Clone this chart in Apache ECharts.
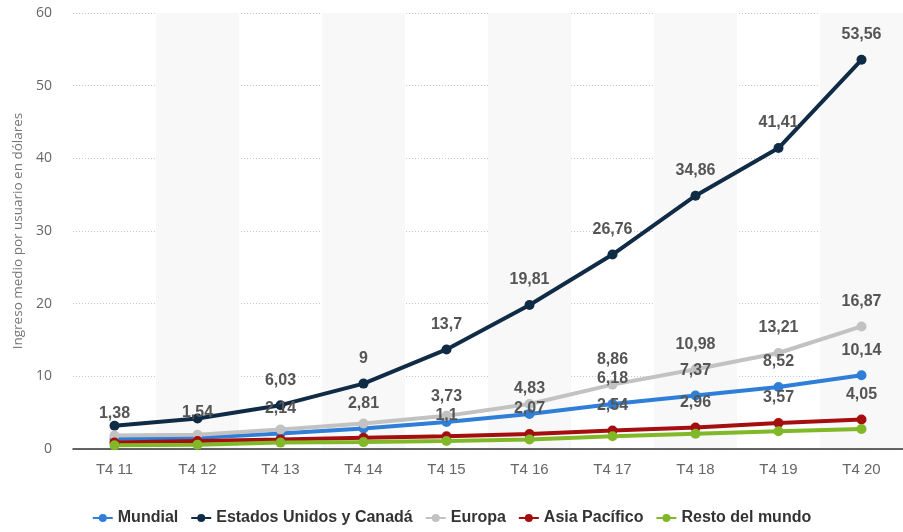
<!DOCTYPE html>
<html>
<head>
<meta charset="utf-8">
<script src="https://cdn.jsdelivr.net/npm/echarts@6/dist/echarts.min.js"></script>
<style>
  html, body { margin: 0; padding: 0; background: #fff; }
  #chart { width: 903px; height: 532px; }
</style>
</head>
<body>
<div id="chart"></div>
<script>
// Quarters (Q4 of each year, Spanish "T4")
const categories = ['T4 11', 'T4 12', 'T4 13', 'T4 14', 'T4 15', 'T4 16', 'T4 17', 'T4 18', 'T4 19', 'T4 20'];

// Average revenue per user, USD
const mundial      = [1.38, 1.54, 2.14, 2.81, 3.73, 4.83, 6.18, 7.37, 8.52, 10.14];
const eeuuCanada   = [3.2, 4.19, 6.03, 9, 13.7, 19.81, 26.76, 34.86, 41.41, 53.56];
const europa       = [1.85, 1.95, 2.7, 3.5, 4.56, 6.2, 8.86, 10.98, 13.21, 16.87];
const asiaPacifico = [0.9, 1.1, 1.3, 1.55, 1.75, 2.07, 2.54, 2.96, 3.57, 4.05];
const restoMundo   = [0.5, 0.6, 0.88, 0.95, 1.1, 1.3, 1.75, 2.1, 2.45, 2.75];

const yTicks = { min: 0, max: 60, interval: 10 };

// Indices of points whose value label is printed (the rest would collide)
const labelled = {
  mundial: [0, 1, 2, 3, 4, 5, 6, 7, 8, 9],
  eeuuCanada: [2, 3, 4, 5, 6, 7, 8, 9],
  europa: [6, 7, 8, 9],
  asiaPacifico: [5, 6, 7, 8, 9],
  restoMundo: [4]
};

const fmt = v => String(v).replace('.', ',');

function withLabels(values, idx) {
  return values.map((v, i) => ({ value: v, label: { show: idx.includes(i) } }));
}

function lineSeries(name, values, idx, color) {
  return {
    name: name,
    type: 'line',
    data: withLabels(values, idx),
    symbol: 'circle',
    symbolSize: 10,
    lineStyle: { width: 4, color: color },
    itemStyle: { color: color },
    label: {
      position: 'top',
      distance: 12,
      color: '#555',
      fontFamily: 'Liberation Sans, Arial, sans-serif',
      fontWeight: 'bold',
      fontSize: 16,
      formatter: p => fmt(p.value)
    },
    emphasis: { disabled: true },
    animation: false
  };
}

const chart = echarts.init(document.getElementById('chart'), null, { renderer: 'canvas' });

chart.setOption({
  backgroundColor: '#fff',
  grid: { left: 73, top: 13, width: 834, height: 436, containLabel: false },
  xAxis: {
    type: 'category',
    data: categories,
    boundaryGap: true,
    axisLine: { lineStyle: { color: '#333', width: 1.5 } },
    axisTick: { show: false },
    axisLabel: {
      color: '#666',
      fontFamily: 'Liberation Sans, Arial, sans-serif',
      fontSize: 15,
      margin: 13
    },
    splitArea: { show: true, areaStyle: { color: ['rgba(255,255,255,0)', '#f8f8f8'] } },
    splitLine: { show: false }
  },
  yAxis: {
    type: 'value',
    min: yTicks.min,
    max: yTicks.max,
    interval: yTicks.interval,
    name: 'Ingreso medio por usuario en dólares',
    nameLocation: 'middle',
    nameGap: 47,
    nameTextStyle: { color: '#777', fontSize: 13.5, fontFamily: 'Open Sans, sans-serif' },
    axisLine: { show: false },
    axisTick: { show: false },
    axisLabel: { color: '#666', fontSize: 14, margin: 21, fontFamily: 'Open Sans, sans-serif' },
    splitLine: { lineStyle: { color: '#c8c8c8', type: [1, 2], width: 1 } }
  },
  legend: {
    bottom: 1,
    left: 'center',
    itemGap: 12,
    itemWidth: 20,
    itemHeight: 10,
    textStyle: {
      color: '#333',
      fontWeight: 'bold',
      fontSize: 16,
      fontFamily: 'Liberation Sans, Arial, sans-serif'
    },
    data: ['Mundial', 'Estados Unidos y Canadá', 'Europa', 'Asia Pacífico', 'Resto del mundo']
  },
  series: [
    lineSeries('Mundial', mundial, labelled.mundial, '#2f7ed8'),
    lineSeries('Estados Unidos y Canadá', eeuuCanada, labelled.eeuuCanada, '#0f2b45'),
    lineSeries('Europa', europa, labelled.europa, '#c2c2c2'),
    lineSeries('Asia Pacífico', asiaPacifico, labelled.asiaPacifico, '#a50e0e'),
    lineSeries('Resto del mundo', restoMundo, labelled.restoMundo, '#80b828')
  ]
});
</script>
</body>
</html>
